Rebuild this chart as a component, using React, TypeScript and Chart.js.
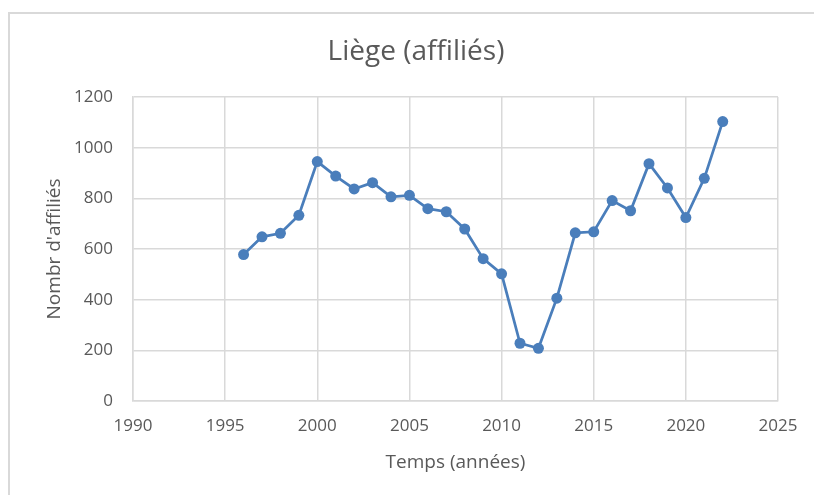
import React, { useEffect, useRef } from "react";
import { Chart, registerables } from "chart.js";

Chart.register(...registerables);

const chartTitle = "Liège (affiliés)";
const xAxisTitle = "Temps (années)";
const yAxisTitle = "Nombr d'affiliés";
const years = [1996, 1997, 1998, 1999, 2000, 2001, 2002, 2003, 2004, 2005, 2006, 2007, 2008, 2009, 2010, 2011, 2012, 2013, 2014, 2015, 2016, 2017, 2018, 2019, 2020, 2021, 2022];
const affiliates = [578, 648, 662, 733, 945, 888, 837, 862, 806, 812, 759, 747, 679, 562, 502, 228, 208, 406, 664, 668, 791, 751, 937, 841, 724, 879, 1103];
const xMin = 1990;
const xMax = 2025;
const xStep = 5;
const yMin = 0;
const yMax = 1200;
const yStep = 200;

const FONT = "'Open Sans', 'Noto Sans', sans-serif";
const TEXT = "#595959";
const GRID = "#d9d9d9";
const BLUE = "#4a7ebb";

export default function App() {
  const ref = useRef<HTMLCanvasElement | null>(null);

  useEffect(() => {
    if (!ref.current) return;
    const chart = new Chart(ref.current, {
      type: "line",
      data: {
        datasets: [
          {
            label: yAxisTitle,
            data: years.map((y, i) => ({ x: y, y: affiliates[i] })),
            borderColor: BLUE,
            backgroundColor: BLUE,
            borderWidth: 2.75,
            pointRadius: 5.5,
            pointBorderWidth: 0,
            pointBackgroundColor: BLUE,
            tension: 0,
          },
        ],
      },
      options: {
        responsive: false,
        animation: false,
        layout: { padding: { left: 54, right: 36, top: 0, bottom: 0 } },
        plugins: {
          legend: { display: false },
          tooltip: { enabled: false },
          title: {
            display: true,
            text: chartTitle,
            color: TEXT,
            font: { family: FONT, size: 28, weight: "normal" },
            padding: { top: 35, bottom: 28.4 },
          },
        },
        scales: {
          x: {
            type: "linear",
            min: xMin,
            max: xMax,
            afterFit: (s: any) => {
              s.height = 94;
            },
            ticks: {
              stepSize: xStep,
              color: TEXT,
              padding: 15,
              maxRotation: 0,
              font: { family: FONT, size: 17 },
              callback: (v: any) => String(v),
            },
            grid: { color: GRID, lineWidth: 1.5, drawTicks: false },
            border: { display: true, color: GRID, width: 1.5 },
            title: {
              display: true,
              text: xAxisTitle,
              color: TEXT,
              font: { family: FONT, size: 19 },
              padding: { top: 0, bottom: 21 },
            },
          },
          y: {
            min: yMin,
            max: yMax,
            afterFit: (s: any) => {
              s.width = 79;
            },
            ticks: {
              stepSize: yStep,
              color: TEXT,
              padding: 20,
              font: { family: FONT, size: 17 },
              callback: (v: any) => String(v),
            },
            grid: { color: GRID, lineWidth: 1.5, drawTicks: false },
            border: { display: true, color: GRID, width: 1.5 },
            title: {
              display: true,
              text: yAxisTitle,
              color: TEXT,
              font: { family: FONT, size: 19 },
              padding: { top: -11, bottom: 0 },
            },
          },
        },
      },
    });
    return () => chart.destroy();
  }, []);

  return (
    <div
      style={{
        position: "fixed",
        left: 0,
        top: 0,
        width: 814,
        height: 495,
        overflow: "hidden",
        background: "#ffffff",
      }}
    >
      <div
        style={{
          position: "absolute",
          left: 8,
          top: 12,
          width: 900,
          height: 600,
          border: "2px solid #d9d9d9",
          boxSizing: "border-box",
        }}
      />
      <canvas
        ref={ref}
        width={814}
        height={495}
        style={{ position: "absolute", left: 0, top: 0, width: 814, height: 495 }}
      />
    </div>
  );
}
